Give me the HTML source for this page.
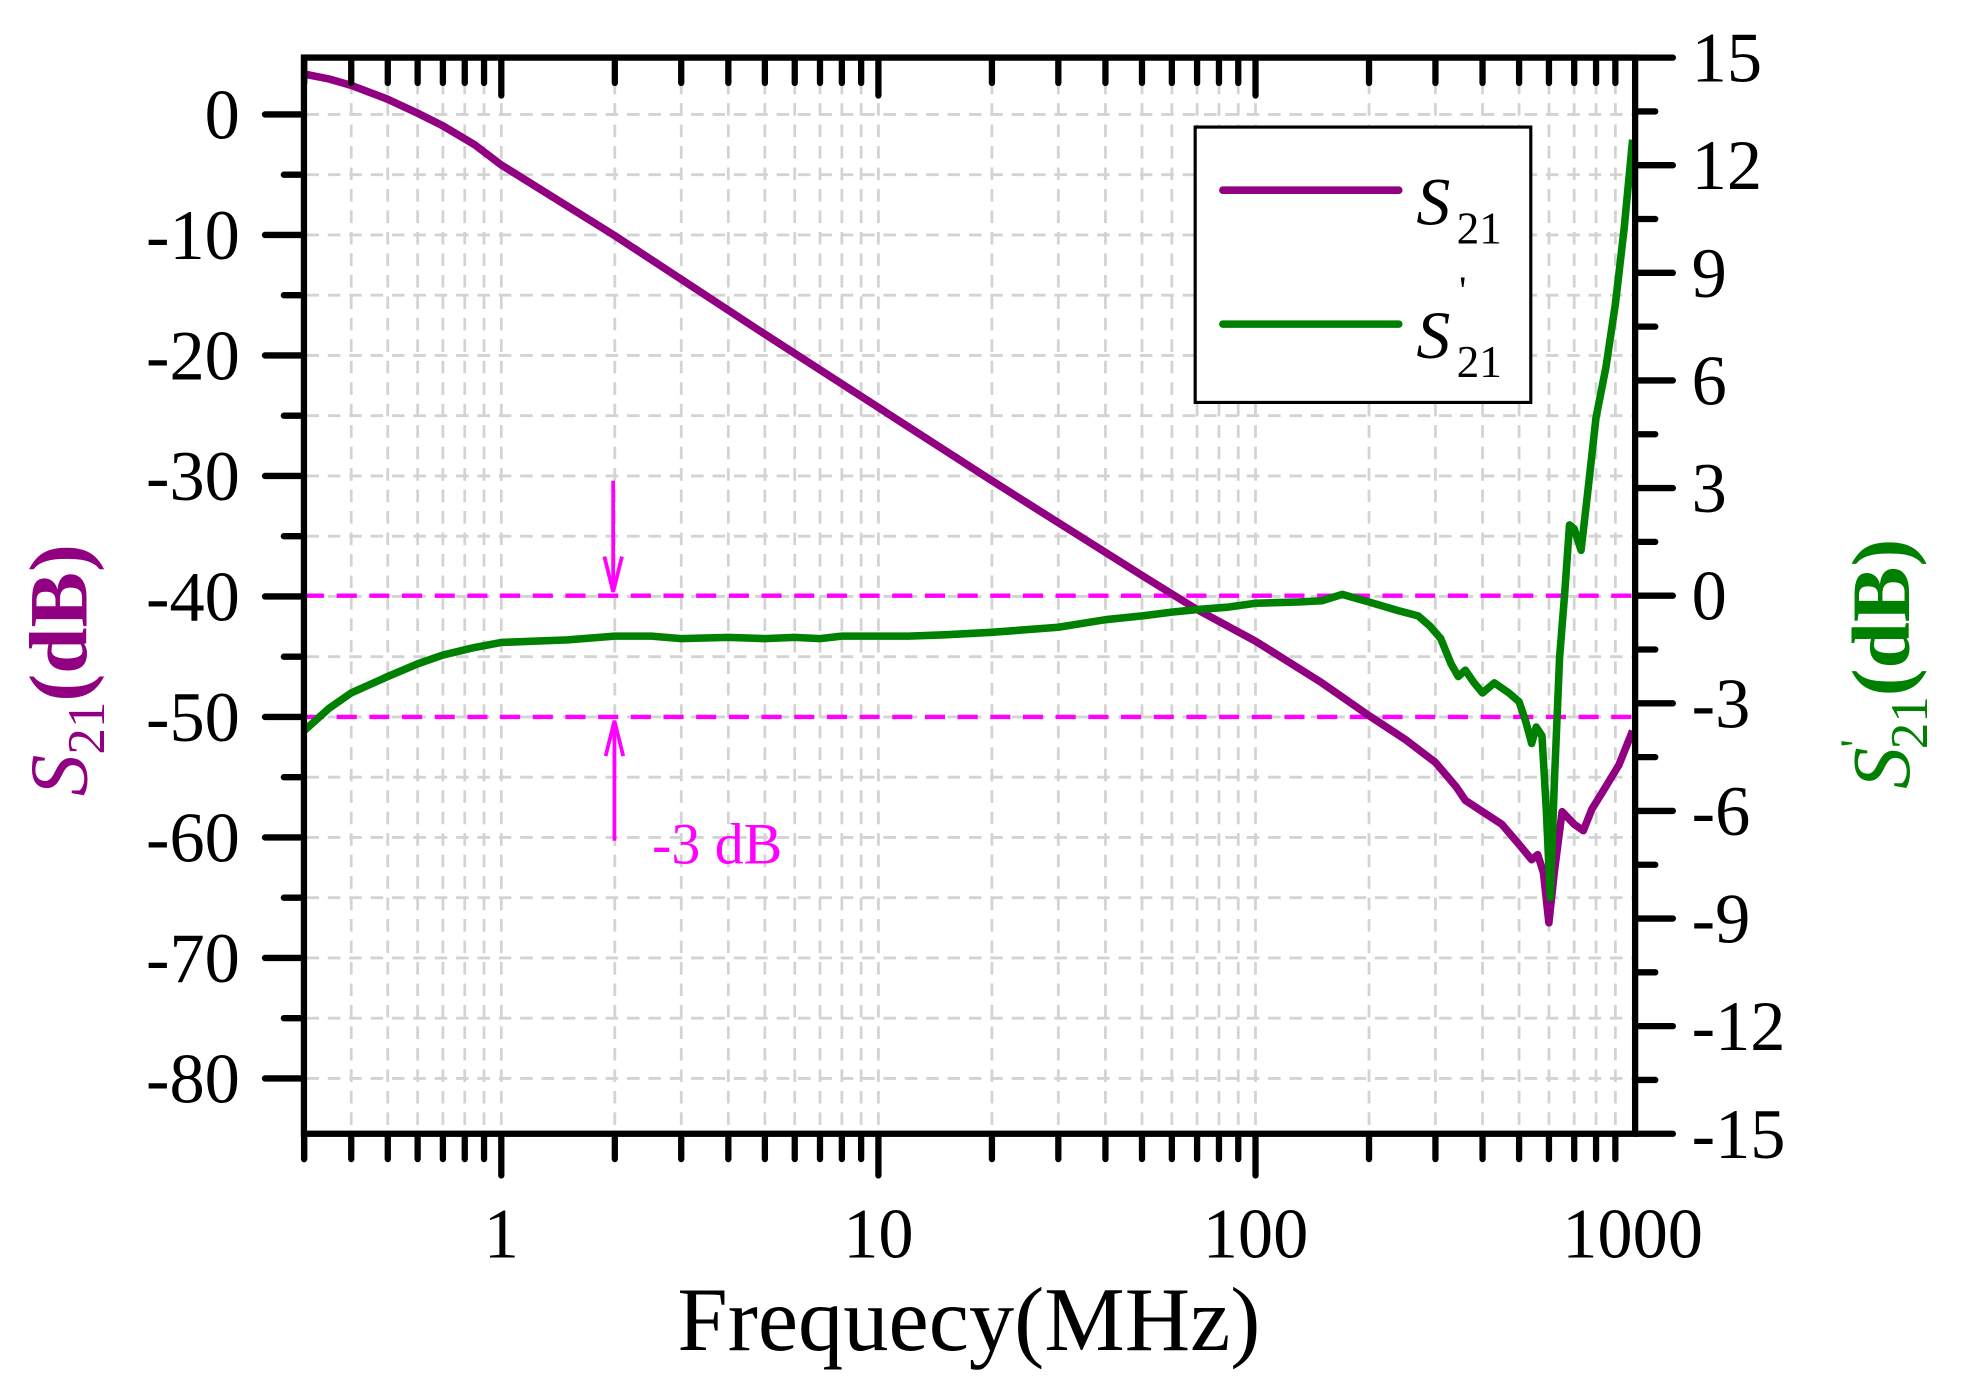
<!DOCTYPE html>
<html><head><meta charset="utf-8"><style>
html,body{margin:0;padding:0;background:#fff;}
svg{display:block;}
text{font-family:"Liberation Serif",serif;}
</style></head><body>
<svg id="s" width="1971" height="1397" viewBox="-0.8 -0.6 1568 1106" preserveAspectRatio="none" xmlns="http://www.w3.org/2000/svg">
<g id="grid" stroke="#d3d3d3" stroke-width="2.2" stroke-dasharray="10,7" fill="none"></g>
<g stroke="#ff00ff" stroke-width="3.5" stroke-dasharray="16,10" fill="none">
<line x1="241" y1="471" x2="1300" y2="471"/><line x1="241" y1="567" x2="1300" y2="567"/>
</g>
<g stroke="#ff00ff" stroke-width="3" fill="#ff00ff">
<line x1="487" y1="380" x2="487" y2="466"/><path d="M480,440 L487,468 L494,440" fill="none"/>
<line x1="488" y1="665" x2="488" y2="572"/><path d="M481,598 L488,570 L495,598" fill="none"/>
</g>
<text x="518" y="683" font-size="46" fill="#ff00ff">-3 dB</text>
<path id="p1" fill="none" stroke="#900080" stroke-width="6" stroke-linejoin="round"/>
<path id="p2" fill="none" stroke="#008000" stroke-width="6" stroke-linejoin="round"/>
<g id="ax" stroke="#000" stroke-width="5" stroke-linecap="round" fill="none"></g>
<rect x="950" y="100" width="267" height="218" fill="#fff" stroke="#000" stroke-width="2.5"/>
<line x1="972" y1="150" x2="1112" y2="150" stroke="#900080" stroke-width="6" stroke-linecap="round"/>
<line x1="972" y1="256" x2="1112" y2="256" stroke="#008000" stroke-width="6" stroke-linecap="round"/>
<text x="1126" y="177" font-size="54" font-style="italic">S</text><text x="1158" y="192" font-size="36">21</text>
<text x="1126" y="283" font-size="54" font-style="italic">S</text><text x="1158" y="298" font-size="36">21</text><text x="1160" y="240" font-size="32">'</text>
<g id="lab" font-size="56" fill="#000"></g>
<text x="770" y="1068" font-size="72" text-anchor="middle">Frequecy(MHz)</text>
<text transform="translate(68,530) rotate(-90)" font-size="66" fill="#900080" text-anchor="middle" font-weight="bold"><tspan font-style="italic" font-weight="normal">S</tspan><tspan font-size="42" font-weight="normal" dy="14">21</tspan><tspan dy="-14">(dB)</tspan></text>
<text transform="translate(1518,525) rotate(-90)" font-size="66" fill="#008000" text-anchor="middle" font-weight="bold"><tspan font-style="italic" font-weight="normal">S</tspan><tspan font-size="36" font-weight="normal" dy="-30">'</tspan><tspan font-size="42" font-weight="normal" dx="-8" dy="44">21</tspan><tspan dy="-14">(dB)</tspan></text>
</svg>
<script>
const NS="http://www.w3.org/2000/svg";
function el(p,t,a,txt){const e=document.createElementNS(NS,t);for(const k in a)e.setAttribute(k,a[k]);if(txt!=null)e.textContent=txt;document.getElementById(p).appendChild(e);}
const X=f=>398+300*Math.log10(f);
const YL=d=>90-d*9.54;
const xs=[];
for(let dec=-1;dec<=2;dec++)for(let m=1;m<=9;m++){const f=m*Math.pow(10,dec);if(f>=0.3&&f<=1000)xs.push(f);}
xs.forEach(f=>{const x=X(f);if(x>243&&x<1298)el("grid","line",{x1:x,y1:47,x2:x,y2:895});});
for(let d=0;d>=-80;d-=5)el("grid","line",{x1:243,y1:YL(d),x2:1298,y2:YL(d)});
el("ax","rect",{x:241,y:45,width:1059,height:852,"stroke-linecap":"square"});
for(let d=0;d>=-80;d-=5){const y=YL(d);el("ax","line",{x1:241,y1:y,x2:d%10==0?210:225,y2:y});if(d%10==0)el("lab","text",{x:190,y:y+19,"text-anchor":"end"},String(d));}
for(let v=15;v>=-15;v-=1.5){const y=471-v*28.4;const maj=Math.abs(v%3)<1e-9;el("ax","line",{x1:1300,y1:y,x2:maj?1330:1316,y2:y});if(maj)el("lab","text",{x:1345,y:y+19},String(v));}
xs.concat([0.3]).forEach(f=>{const x=X(f);const maj=Math.abs(Math.log10(f)-Math.round(Math.log10(f)))<1e-9;el("ax","line",{x1:x,y1:897,x2:x,y2:maj?930:917});if(!maj||f<1000)el("ax","line",{x1:x,y1:45,x2:x,y2:maj?75:65});});
[[1,"1"],[10,"10"],[100,"100"],[1000,"1000"]].forEach(a=>el("lab","text",{x:X(a[0]),y:995,"text-anchor":"middle"},a[1]));
function path(id,pts){document.getElementById(id).setAttribute("d",pts.map((p,i)=>(i?"L":"M")+X(p[0]).toFixed(1)+","+p[1]).join(" "));}
const s1=[[0.3,58],[0.35,62],[0.4,67],[0.5,78],[0.6,89],[0.7,99],[0.85,114],[1,130],[2,186],[5,264],[10,322],[20,380],[50,455],[70,482],[100,507],[150,540],[200,566],[250,585],[300,603],[340,622],[360,633],[400,642],[450,652],[500,668],[540,680],[560,676],[580,690],[600,730],[620,690],[650,642],[700,652],[740,657],[780,640],[850,622],[920,605],[1000,578]];
path("p1",s1);
const s2=[[0.3,578],[0.35,560],[0.4,548],[0.5,535],[0.6,525],[0.7,518],[0.85,512],[1,508],[1.5,506],[2,503],[2.5,503],[3,505],[4,504],[5,505],[6,504],[7,505],[8,503],[10,503],[12,503],[15,502],[20,500],[30,496],[40,490],[50,487],[60,484],[70,482],[85,480],[100,477],[130,476],[150,475],[170,470],[200,476],[240,483],[270,487],[290,495],[310,505],[330,525],[345,535],[360,530],[380,540],[400,548],[430,540],[470,548],[500,555],[520,570],[540,588],[555,575],[575,582],[590,640],[605,710],[620,620],[640,520],[660,470],[680,415],[700,418],[730,435],[760,390],[800,330],[850,290],[900,240],[950,180],[1000,110]];
path("p2",s2);
</script>
</body></html>
